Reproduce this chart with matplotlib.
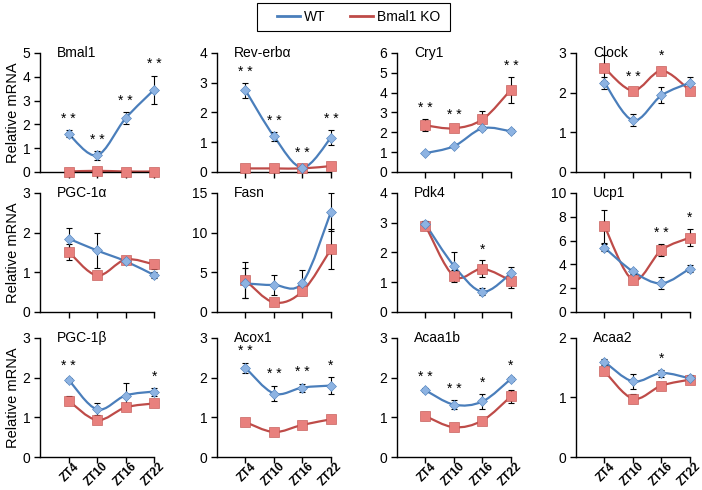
import matplotlib
matplotlib.use("Agg")
import matplotlib.pyplot as plt
import numpy as np
from matplotlib.path import Path
from matplotlib.patches import PathPatch, Rectangle
from matplotlib.lines import Line2D
from matplotlib.transforms import ScaledTranslation

plt.rcParams['font.family'] = ['Liberation Sans', 'DejaVu Sans']

zt_labels = ['ZT4', 'ZT10', 'ZT16', 'ZT22']

# gene name, y max, y step
genes = ['Bmal1', 'Rev-erbα', 'Cry1', 'Clock',
         'PGC-1α', 'Fasn', 'Pdk4', 'Ucp1',
         'PGC-1β', 'Acox1', 'Acaa1b', 'Acaa2']
ymax = [5, 4, 6, 3, 3, 15, 4, 10, 3, 3, 3, 2]
ystep = [1, 1, 1, 1, 1, 5, 1, 2, 1, 1, 1, 1]

# WT means / errors
wt = [[1.6, 0.7, 2.25, 3.45],
      [2.75, 1.2, 0.15, 1.15],
      [0.95, 1.3, 2.2, 2.05],
      [2.25, 1.3, 1.93, 2.25],
      [1.85, 1.55, 1.28, 0.93],
      [3.6, 3.4, 3.7, 12.6],
      [2.95, 1.55, 0.68, 1.3],
      [5.4, 3.4, 2.4, 3.65],
      [1.95, 1.2, 1.55, 1.65],
      [2.25, 1.6, 1.75, 1.8],
      [1.68, 1.32, 1.4, 1.97],
      [1.6, 1.27, 1.41, 1.32]]
wt_err = [[0.15, 0.18, 0.25, 0.6],
          [0.25, 0.15, 0.1, 0.25],
          [0.05, 0.05, 0.1, 0.1],
          [0.15, 0.15, 0.2, 0.15],
          [0.27, 0.45, 0.05, 0.08],
          [1.9, 1.3, 1.6, 2.4],
          [0.12, 0.45, 0.12, 0.22],
          [0.3, 0.2, 0.5, 0.3],
          [0.05, 0.15, 0.32, 0.1],
          [0.13, 0.2, 0.1, 0.22],
          [0.05, 0.12, 0.18, 0.05],
          [0.05, 0.12, 0.06, 0.05]]

# Bmal1 KO means / errors
ko = [[0.02, 0.05, 0.02, 0.02],
      [0.12, 0.12, 0.12, 0.2],
      [2.35, 2.2, 2.65, 4.15],
      [2.62, 2.05, 2.55, 2.05],
      [1.52, 0.92, 1.32, 1.2],
      [4.0, 1.2, 2.6, 7.9],
      [2.9, 1.2, 1.45, 1.05],
      [7.2, 2.7, 5.2, 6.25],
      [1.42, 0.93, 1.25, 1.35],
      [0.88, 0.63, 0.81, 0.95],
      [1.03, 0.75, 0.92, 1.53],
      [1.44, 0.98, 1.2, 1.3]]
ko_err = [[0.01, 0.02, 0.01, 0.01],
          [0.03, 0.03, 0.03, 0.04],
          [0.3, 0.1, 0.4, 0.65],
          [0.33, 0.05, 0.1, 0.08],
          [0.2, 0.07, 0.05, 0.12],
          [2.3, 0.3, 0.4, 2.5],
          [0.15, 0.2, 0.28, 0.25],
          [1.4, 0.3, 0.5, 0.7],
          [0.12, 0.05, 0.05, 0.05],
          [0.04, 0.04, 0.04, 0.04],
          [0.1, 0.04, 0.04, 0.17],
          [0.04, 0.08, 0.04, 0.06]]

# significance marks per time point
stars = [['**', '**', '**', '**'],
         ['**', '**', '**', '**'],
         ['**', '**', '', '**'],
         ['', '**', '*', ''],
         ['', '', '', ''],
         ['', '', '', ''],
         ['', '', '*', ''],
         ['', '', '**', '*'],
         ['**', '', '', '*'],
         ['**', '**', '**', '*'],
         ['**', '**', '*', '*'],
         ['', '', '*', '']]

BLUE = '#4a7ebb'
BLUE_M = '#8db3e2'
RED = '#be4b48'
RED_M = '#e8807d'


def smooth_path(x, y):
    # Excel-like smoothed line (Catmull-Rom as cubic Bezier)
    n = len(x)
    verts = [(x[0], y[0])]
    codes = [Path.MOVETO]
    for i in range(n - 1):
        a = max(i - 1, 0)
        b = min(i + 2, n - 1)
        c1 = (x[i] + (x[i + 1] - x[a]) / 6, y[i] + (y[i + 1] - y[a]) / 6)
        c2 = (x[i + 1] - (x[b] - x[i]) / 6, y[i + 1] - (y[b] - y[i]) / 6)
        verts += [c1, c2, (x[i + 1], y[i + 1])]
        codes += [Path.CURVE4] * 3
    return Path(verts, codes)


fig = plt.figure(figsize=(7.02, 4.90), dpi=100)

lefts = [0.057, 0.309, 0.5655, 0.8205]
bottoms = [0.649, 0.3633, 0.0673]
w, h = 0.1624, 0.243

x = np.arange(1, 5)

for k, g in enumerate(genes):
    r, c = divmod(k, 4)
    ax = fig.add_axes([lefts[c], bottoms[r], w, h])

    for vals, errs, lc, mc, mk, ms in [(ko[k], ko_err[k], RED, RED_M, 's', 7),
                                        (wt[k], wt_err[k], BLUE, BLUE_M, 'D', 5)]:
        ax.add_patch(PathPatch(smooth_path(x, vals), fill=False, edgecolor=lc, lw=1.6,
                               zorder=2, clip_on=False))
        ax.errorbar(x, vals, yerr=errs, fmt='none', ecolor='black', elinewidth=0.8,
                    capsize=2.5, capthick=0.8, zorder=3, clip_on=False)
        ax.plot(x, vals, linestyle='none', marker=mk, markersize=ms, markerfacecolor=mc,
                markeredgecolor=lc, markeredgewidth=0.4, zorder=4, clip_on=False)

    for i, s in enumerate(stars[k]):
        if s:
            top = max(wt[k][i] + wt_err[k][i], ko[k][i] + ko_err[k][i])
            ax.annotate(' '.join(s), (x[i], top), xytext=(0, 3), textcoords='offset points',
                        ha='center', va='bottom', fontsize=10, annotation_clip=False)

    ax.set_xlim(0, 4)
    ax.set_ylim(0, ymax[k])
    ax.set_yticks(np.arange(0, ymax[k] + ystep[k] / 2, ystep[k]))
    ax.set_xticks(x)
    ax.tick_params(direction='out', length=4, width=1, labelsize=10, pad=3)
    if r == 2:
        ax.set_xticklabels(zt_labels, rotation=45, ha='right', va='top',
                           rotation_mode='anchor', fontweight='bold', fontsize=8.5)
        ax.tick_params(axis='x', pad=0)
        shift = ScaledTranslation(5 / 100, 2 / 100, fig.dpi_scale_trans)
        for lab in ax.get_xticklabels():
            lab.set_transform(lab.get_transform() + shift)
    else:
        ax.set_xticklabels([])
    ax.spines['top'].set_visible(False)
    ax.spines['right'].set_visible(False)
    ax.spines['left'].set_linewidth(1)
    ax.spines['bottom'].set_linewidth(1)
    ax.text(0.15, 1.0, g, transform=ax.transAxes, ha='left', va='center', fontsize=10)
    if c == 0:
        ax.set_ylabel('Relative mRNA', fontsize=10.5, labelpad=2)

# legend box
fig.patches.append(Rectangle((257 / 702, 1 - 31 / 490), 193 / 702, 28 / 490,
                             transform=fig.transFigure, fill=False, edgecolor='black', lw=0.8))
handles = [Line2D([], [], color=BLUE, lw=2), Line2D([], [], color=RED, lw=2)]
fig.legend(handles, ['WT', 'Bmal1 KO'], loc='center', bbox_to_anchor=(0.511, 0.965),
           ncol=2, frameon=False, fontsize=10, handlelength=1.6, handletextpad=0.3,
           columnspacing=1.8, borderpad=0.2, borderaxespad=0)

fig.savefig('out.png', dpi=100)
